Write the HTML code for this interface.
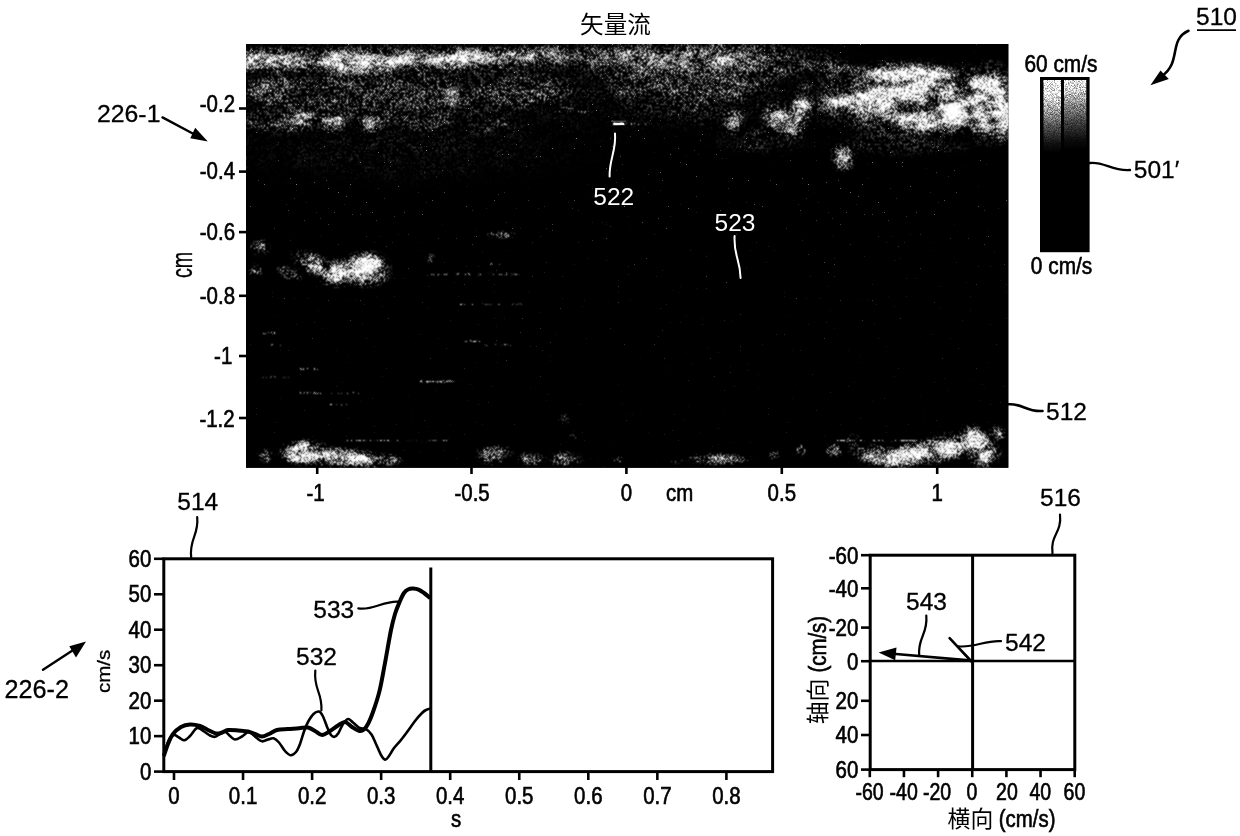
<!DOCTYPE html>
<html lang="zh">
<head>
<meta charset="utf-8">
<title>矢量流 510</title>
<style>
html,body{margin:0;padding:0;background:#fff;}
body{width:1240px;height:836px;overflow:hidden;}
svg{display:block;font-family:'Liberation Sans', 'Noto Sans CJK SC', sans-serif;}
</style>
</head>
<body>
<svg width="1240" height="836" viewBox="0 0 1240 836">
<rect width="1240" height="836" fill="#fff"/>
<defs>
<clipPath id="imgclip"><rect x="246" y="44" width="762.3" height="423.7"/></clipPath>
<radialGradient id="rg"><stop offset="0" stop-color="#fff" stop-opacity="1"/><stop offset="0.3" stop-color="#fff" stop-opacity="0.86"/><stop offset="0.55" stop-color="#fff" stop-opacity="0.5"/><stop offset="0.8" stop-color="#fff" stop-opacity="0.14"/><stop offset="1" stop-color="#fff" stop-opacity="0"/></radialGradient>
<radialGradient id="rgd"><stop offset="0" stop-color="#000" stop-opacity="1"/><stop offset="0.5" stop-color="#000" stop-opacity="0.7"/><stop offset="1" stop-color="#000" stop-opacity="0"/></radialGradient>
<filter id="grain" x="0" y="0" width="100%" height="100%" color-interpolation-filters="sRGB"><feTurbulence type="fractalNoise" baseFrequency="1.3" numOctaves="1" seed="5" result="g0"/><feColorMatrix in="g0" type="matrix" values="-2.4 0 0 0 1.7  -2.4 0 0 0 1.7  -2.4 0 0 0 1.7  0 0 0 0 1" result="g1"/><feComposite in="SourceGraphic" in2="g1" operator="arithmetic" k1="0.9" k2="0.55" k3="0" k4="0"/></filter>
<filter id="us" x="0" y="0" width="100%" height="100%" filterUnits="objectBoundingBox" color-interpolation-filters="sRGB"><feTurbulence type="fractalNoise" baseFrequency="0.055 0.09" numOctaves="3" seed="11" result="sp0"/><feColorMatrix in="sp0" type="matrix" values="2.4 0 0 0 -0.7  2.4 0 0 0 -0.7  2.4 0 0 0 -0.7  0 0 0 0 1" result="sp"/><feComposite in="SourceGraphic" in2="sp" operator="arithmetic" k1="1.1" k2="0.45" k3="0" k4="0" result="lum0"/><feComponentTransfer in="lum0" result="lum"><feFuncR type="gamma" amplitude="1.25" exponent="1.0"/><feFuncG type="gamma" amplitude="1.25" exponent="1.0"/><feFuncB type="gamma" amplitude="1.25" exponent="1.0"/></feComponentTransfer><feTurbulence type="fractalNoise" baseFrequency="1.3" numOctaves="1" seed="3" result="hf0"/><feColorMatrix in="hf0" type="matrix" values="-3.4 0 0 0 2.2  -3.4 0 0 0 2.2  -3.4 0 0 0 2.2  0 0 0 0 1" result="hf"/><feComposite in="lum" in2="hf" operator="arithmetic" k1="0" k2="5.1" k3="5.0" k4="-5.0" result="dz"/><feComponentTransfer in="dz" result="dt"><feFuncR type="linear" slope="1.0" intercept="0"/><feFuncG type="linear" slope="1.0" intercept="0"/><feFuncB type="linear" slope="1.0" intercept="0"/></feComponentTransfer><feConvolveMatrix in="dt" order="3" kernelMatrix="0.6 1 0.6 1 3 1 0.6 1 0.6" preserveAlpha="true" edgeMode="duplicate"/></filter>
<filter id="salt" x="0" y="0" width="100%" height="100%" color-interpolation-filters="sRGB"><feTurbulence type="fractalNoise" baseFrequency="0.5" numOctaves="3" seed="21" result="s0"/><feColorMatrix in="s0" type="matrix" values="0 0 0 0 1  0 0 0 0 1  0 0 0 0 1  9 0 0 0 -6.75" result="s1"/><feComposite in="SourceGraphic" in2="s1" operator="in"/></filter>
<linearGradient id="saltg" x1="0" y1="0" x2="0" y2="1"><stop offset="0" stop-color="#fff" stop-opacity="0.7"/><stop offset="0.3" stop-color="#fff" stop-opacity="0.6"/><stop offset="0.6" stop-color="#fff" stop-opacity="0.3"/><stop offset="1" stop-color="#fff" stop-opacity="0.12"/></linearGradient>
<linearGradient id="cbar1" x1="0" y1="0" x2="0" y2="1"><stop offset="0" stop-color="#fff"/><stop offset="0.07" stop-color="#f0f0f0"/><stop offset="0.17" stop-color="#a4a4a4"/><stop offset="0.28" stop-color="#4a4a4a"/><stop offset="0.37" stop-color="#111"/><stop offset="0.43" stop-color="#000"/></linearGradient>
<linearGradient id="cbar2" x1="0" y1="0" x2="0" y2="1"><stop offset="0" stop-color="#f4f4f4"/><stop offset="0.06" stop-color="#c8c8c8"/><stop offset="0.15" stop-color="#828282"/><stop offset="0.26" stop-color="#383838"/><stop offset="0.35" stop-color="#0c0c0c"/><stop offset="0.41" stop-color="#000"/></linearGradient>
</defs>
<rect x="246" y="44" width="762.3" height="423.7" fill="#000"/>
<g clip-path="url(#imgclip)">
<g filter="url(#us)">
<rect x="246" y="44" width="762.3" height="423.7" fill="#000"/>
<ellipse cx="390" cy="60" rx="217.5" ry="17.4" fill="url(#rg)" fill-opacity="0.26"/>
<ellipse cx="274" cy="60" rx="43.5" ry="15.9" fill="url(#rg)" fill-opacity="0.51"/>
<ellipse cx="250" cy="60" rx="14.5" ry="14.5" fill="url(#rg)" fill-opacity="0.42"/>
<ellipse cx="352" cy="62" rx="60.9" ry="15.9" fill="url(#rg)" fill-opacity="0.64"/>
<ellipse cx="354" cy="61" rx="26.1" ry="8.7" fill="url(#rg)" fill-opacity="0.51"/>
<ellipse cx="454" cy="58" rx="49.3" ry="13.0" fill="url(#rg)" fill-opacity="0.59"/>
<ellipse cx="455" cy="57" rx="20.3" ry="7.2" fill="url(#rg)" fill-opacity="0.42"/>
<ellipse cx="405" cy="60" rx="29.0" ry="11.6" fill="url(#rg)" fill-opacity="0.38"/>
<ellipse cx="510" cy="55" rx="69.6" ry="10.2" fill="url(#rg)" fill-opacity="0.42" transform="rotate(-3 510 55)"/>
<ellipse cx="580" cy="56" rx="87.0" ry="13.0" fill="url(#rg)" fill-opacity="0.21"/>
<ellipse cx="380" cy="95" rx="203.0" ry="34.8" fill="url(#rg)" fill-opacity="0.17"/>
<ellipse cx="400" cy="150" rx="232.0" ry="43.5" fill="url(#rg)" fill-opacity="0.04"/>
<ellipse cx="270" cy="90" rx="34.8" ry="17.4" fill="url(#rg)" fill-opacity="0.26"/>
<ellipse cx="297" cy="117" rx="20.3" ry="10.2" fill="url(#rg)" fill-opacity="0.47"/>
<ellipse cx="333" cy="123" rx="17.4" ry="11.6" fill="url(#rg)" fill-opacity="0.51"/>
<ellipse cx="372" cy="124" rx="14.5" ry="10.2" fill="url(#rg)" fill-opacity="0.47"/>
<ellipse cx="454" cy="96" rx="14.5" ry="11.6" fill="url(#rg)" fill-opacity="0.42"/>
<ellipse cx="530" cy="90" rx="58.0" ry="20.3" fill="url(#rg)" fill-opacity="0.19"/>
<ellipse cx="280" cy="122" rx="58.0" ry="14.5" fill="url(#rg)" fill-opacity="0.19"/>
<ellipse cx="420" cy="122" rx="43.5" ry="11.6" fill="url(#rg)" fill-opacity="0.13"/>
<ellipse cx="490" cy="125" rx="36.2" ry="11.6" fill="url(#rg)" fill-opacity="0.10"/>
<ellipse cx="700" cy="62" rx="159.5" ry="26.1" fill="url(#rg)" fill-opacity="0.34"/>
<ellipse cx="690" cy="100" rx="101.5" ry="31.9" fill="url(#rg)" fill-opacity="0.09"/>
<ellipse cx="540" cy="80" rx="435.0" ry="72.5" fill="url(#rg)" fill-opacity="0.04"/>
<ellipse cx="650" cy="58" rx="58.0" ry="14.5" fill="url(#rg)" fill-opacity="0.21"/>
<ellipse cx="700" cy="58" rx="36.2" ry="13.0" fill="url(#rg)" fill-opacity="0.17"/>
<ellipse cx="745" cy="56" rx="29.0" ry="13.0" fill="url(#rg)" fill-opacity="0.17"/>
<ellipse cx="640" cy="85" rx="50.8" ry="14.5" fill="url(#rg)" fill-opacity="0.15"/>
<ellipse cx="720" cy="88" rx="72.5" ry="14.5" fill="url(#rg)" fill-opacity="0.19"/>
<ellipse cx="835" cy="68" rx="26.1" ry="11.6" fill="url(#rg)" fill-opacity="0.26"/>
<ellipse cx="733" cy="120" rx="13.0" ry="13.0" fill="url(#rg)" fill-opacity="0.42"/>
<ellipse cx="777" cy="117" rx="18.8" ry="18.8" fill="url(#rg)" fill-opacity="0.55"/>
<ellipse cx="801" cy="111" rx="13.0" ry="31.9" fill="url(#rg)" fill-opacity="0.59" transform="rotate(10 801 111)"/>
<ellipse cx="790" cy="128" rx="14.5" ry="10.2" fill="url(#rg)" fill-opacity="0.34"/>
<ellipse cx="843" cy="158" rx="14.5" ry="15.9" fill="url(#rg)" fill-opacity="0.42"/>
<ellipse cx="760" cy="140" rx="58.0" ry="17.4" fill="url(#rg)" fill-opacity="0.10"/>
<ellipse cx="900" cy="145" rx="87.0" ry="14.5" fill="url(#rg)" fill-opacity="0.10"/>
<ellipse cx="915" cy="100" rx="121.8" ry="43.5" fill="url(#rg)" fill-opacity="0.47"/>
<ellipse cx="912" cy="79" rx="66.7" ry="18.8" fill="url(#rg)" fill-opacity="0.85" transform="rotate(3 912 79)"/>
<ellipse cx="915" cy="78" rx="43.5" ry="11.6" fill="url(#rg)" fill-opacity="0.51" transform="rotate(3 915 78)"/>
<ellipse cx="880" cy="98" rx="69.6" ry="14.5" fill="url(#rg)" fill-opacity="0.77" transform="rotate(-8 880 98)"/>
<ellipse cx="838" cy="98" rx="20.3" ry="11.6" fill="url(#rg)" fill-opacity="0.42"/>
<ellipse cx="935" cy="121" rx="52.2" ry="14.5" fill="url(#rg)" fill-opacity="0.77" transform="rotate(-5 935 121)"/>
<ellipse cx="953" cy="111" rx="21.8" ry="17.4" fill="url(#rg)" fill-opacity="0.85"/>
<ellipse cx="953" cy="111" rx="14.5" ry="11.6" fill="url(#rg)" fill-opacity="0.85"/>
<ellipse cx="953" cy="111" rx="10.2" ry="8.7" fill="url(#rg)" fill-opacity="0.85"/>
<ellipse cx="990" cy="104" rx="31.9" ry="46.4" fill="url(#rg)" fill-opacity="0.77"/>
<ellipse cx="1002" cy="108" rx="17.4" ry="37.7" fill="url(#rg)" fill-opacity="0.59"/>
<ellipse cx="985" cy="88" rx="26.1" ry="17.4" fill="url(#rg)" fill-opacity="0.42"/>
<ellipse cx="870" cy="115" rx="36.2" ry="10.2" fill="url(#rg)" fill-opacity="0.34"/>
<ellipse cx="260" cy="247" rx="11.6" ry="10.2" fill="url(#rg)" fill-opacity="0.34"/>
<ellipse cx="256" cy="271" rx="8.7" ry="7.2" fill="url(#rg)" fill-opacity="0.26"/>
<ellipse cx="289" cy="273" rx="15.9" ry="7.2" fill="url(#rg)" fill-opacity="0.34" transform="rotate(20 289 273)"/>
<ellipse cx="314" cy="264" rx="27.6" ry="13.0" fill="url(#rg)" fill-opacity="0.59" transform="rotate(25 314 264)"/>
<ellipse cx="337" cy="273" rx="21.8" ry="15.9" fill="url(#rg)" fill-opacity="0.68"/>
<ellipse cx="366" cy="269" rx="29.0" ry="20.3" fill="url(#rg)" fill-opacity="0.85"/>
<ellipse cx="367" cy="268" rx="20.3" ry="14.5" fill="url(#rg)" fill-opacity="0.85"/>
<ellipse cx="368" cy="268" rx="13.0" ry="8.7" fill="url(#rg)" fill-opacity="0.85"/>
<ellipse cx="501" cy="235" rx="17.4" ry="4.3" fill="url(#rg)" fill-opacity="0.38"/>
<ellipse cx="430" cy="258" rx="5.8" ry="5.8" fill="url(#rg)" fill-opacity="0.26"/>
<ellipse cx="265" cy="456" rx="8.7" ry="8.7" fill="url(#rg)" fill-opacity="0.38"/>
<ellipse cx="305" cy="452" rx="27.6" ry="14.5" fill="url(#rg)" fill-opacity="0.81"/>
<ellipse cx="304" cy="452" rx="17.4" ry="8.7" fill="url(#rg)" fill-opacity="0.68"/>
<ellipse cx="340" cy="457" rx="66.7" ry="11.6" fill="url(#rg)" fill-opacity="0.72" transform="rotate(4 340 457)"/>
<ellipse cx="300" cy="456" rx="17.4" ry="10.2" fill="url(#rg)" fill-opacity="0.42"/>
<ellipse cx="494" cy="455" rx="21.8" ry="11.6" fill="url(#rg)" fill-opacity="0.38"/>
<ellipse cx="531" cy="459" rx="15.9" ry="8.7" fill="url(#rg)" fill-opacity="0.38"/>
<ellipse cx="565" cy="459" rx="20.3" ry="8.7" fill="url(#rg)" fill-opacity="0.38"/>
<ellipse cx="564" cy="419" rx="5.8" ry="5.8" fill="url(#rg)" fill-opacity="0.30"/>
<ellipse cx="573" cy="436" rx="4.3" ry="5.8" fill="url(#rg)" fill-opacity="0.26"/>
<ellipse cx="618" cy="460" rx="7.2" ry="4.3" fill="url(#rg)" fill-opacity="0.21"/>
<ellipse cx="395" cy="460" rx="8.7" ry="4.3" fill="url(#rg)" fill-opacity="0.21"/>
<ellipse cx="718" cy="459" rx="36.2" ry="7.2" fill="url(#rg)" fill-opacity="0.34"/>
<ellipse cx="676" cy="461" rx="8.7" ry="3.6" fill="url(#rg)" fill-opacity="0.26"/>
<ellipse cx="774" cy="455" rx="7.2" ry="5.8" fill="url(#rg)" fill-opacity="0.26"/>
<ellipse cx="801" cy="450" rx="7.2" ry="7.2" fill="url(#rg)" fill-opacity="0.30"/>
<ellipse cx="834" cy="450" rx="10.2" ry="8.7" fill="url(#rg)" fill-opacity="0.38"/>
<ellipse cx="853" cy="440" rx="8.7" ry="7.2" fill="url(#rg)" fill-opacity="0.26"/>
<ellipse cx="878" cy="455" rx="31.9" ry="11.6" fill="url(#rg)" fill-opacity="0.64" transform="rotate(10 878 455)"/>
<ellipse cx="905" cy="456" rx="31.9" ry="13.0" fill="url(#rg)" fill-opacity="0.81" transform="rotate(-15 905 456)"/>
<ellipse cx="944" cy="448" rx="34.8" ry="15.9" fill="url(#rg)" fill-opacity="0.85" transform="rotate(-15 944 448)"/>
<ellipse cx="975" cy="440" rx="18.8" ry="15.9" fill="url(#rg)" fill-opacity="0.77" transform="rotate(30 975 440)"/>
<ellipse cx="984" cy="453" rx="18.8" ry="17.4" fill="url(#rg)" fill-opacity="0.81" transform="rotate(20 984 453)"/>
<ellipse cx="997" cy="433" rx="10.2" ry="8.7" fill="url(#rg)" fill-opacity="0.42"/>
<ellipse cx="925" cy="452" rx="72.5" ry="14.5" fill="url(#rg)" fill-opacity="0.26" transform="rotate(-8 925 452)"/>
<ellipse cx="327" cy="267" rx="6.5" ry="6.5" fill="url(#rgd)" fill-opacity="1"/>
<ellipse cx="920" cy="108" rx="20.8" ry="4.5" fill="url(#rgd)" fill-opacity="0.6"/>
<ellipse cx="962" cy="79" rx="11.7" ry="13.0" fill="url(#rgd)" fill-opacity="0.8"/>
<ellipse cx="969" cy="92" rx="7.8" ry="7.8" fill="url(#rgd)" fill-opacity="0.5"/>
<ellipse cx="990" cy="97" rx="6.5" ry="5.2" fill="url(#rgd)" fill-opacity="0.5"/>
<ellipse cx="993" cy="121" rx="7.8" ry="6.5" fill="url(#rgd)" fill-opacity="0.55"/>
<ellipse cx="933" cy="102" rx="9.1" ry="10.4" fill="url(#rgd)" fill-opacity="0.6"/>
<ellipse cx="905" cy="112" rx="11.7" ry="5.2" fill="url(#rgd)" fill-opacity="0.5"/>
<line x1="613.5" y1="123.8" x2="624" y2="123.8" stroke="#fff" stroke-opacity="0.8" stroke-width="2.4"/>
<line x1="425" y1="274.5" x2="520" y2="274.5" stroke="#fff" stroke-opacity="0.144" stroke-width="1.4"/>
<line x1="455" y1="274.3" x2="470" y2="274.3" stroke="#fff" stroke-opacity="0.48" stroke-width="1.8"/>
<line x1="490" y1="264" x2="500" y2="264" stroke="#fff" stroke-opacity="0.24" stroke-width="1.4"/>
<line x1="460" y1="304" x2="523" y2="304" stroke="#fff" stroke-opacity="0.16" stroke-width="1.7"/>
<line x1="462" y1="341" x2="480" y2="341" stroke="#fff" stroke-opacity="0.28" stroke-width="1.7"/>
<line x1="480" y1="345" x2="517" y2="345" stroke="#fff" stroke-opacity="0.16" stroke-width="1.4"/>
<line x1="340" y1="440.6" x2="447" y2="440.6" stroke="#fff" stroke-opacity="0.16" stroke-width="1"/>
<line x1="837" y1="440.6" x2="934" y2="440.6" stroke="#fff" stroke-opacity="0.32" stroke-width="1"/>
<line x1="419" y1="381.5" x2="454" y2="381.5" stroke="#fff" stroke-opacity="0.36" stroke-width="1.7"/>
<line x1="300" y1="369" x2="320" y2="369" stroke="#fff" stroke-opacity="0.28" stroke-width="1.5"/>
<line x1="298" y1="393" x2="360" y2="393" stroke="#fff" stroke-opacity="0.16" stroke-width="1.4"/>
<line x1="330" y1="405" x2="350" y2="405" stroke="#fff" stroke-opacity="0.2" stroke-width="1.5"/>
<line x1="262" y1="377" x2="290" y2="377" stroke="#fff" stroke-opacity="0.12" stroke-width="1.4"/>
<line x1="262" y1="333" x2="275" y2="333" stroke="#fff" stroke-opacity="0.2" stroke-width="1.7"/>
<line x1="268" y1="345" x2="285" y2="345" stroke="#fff" stroke-opacity="0.16" stroke-width="1.7"/>
<line x1="555" y1="112" x2="590" y2="112" stroke="#fff" stroke-opacity="0.16" stroke-width="1.7"/>
<line x1="610" y1="124" x2="650" y2="124" stroke="#fff" stroke-opacity="0.16" stroke-width="1.7"/>
<line x1="560" y1="108" x2="575" y2="108" stroke="#fff" stroke-opacity="0.2" stroke-width="1.7"/>
</g>
</g>
<g clip-path="url(#imgclip)">
<ellipse cx="953" cy="110.5" rx="13" ry="11" fill="url(#rg)" fill-opacity="1"/>
<ellipse cx="953" cy="110.5" rx="9" ry="7.5" fill="url(#rg)" fill-opacity="1"/>
<ellipse cx="368" cy="268" rx="12" ry="9" fill="url(#rg)" fill-opacity="0.7"/>
</g>
<g clip-path="url(#imgclip)"><rect x="246" y="44" width="762.3" height="423.7" fill="url(#saltg)" filter="url(#salt)"/></g>
<line x1="613.60" y1="123.90" x2="624.00" y2="123.90" stroke="#fff" stroke-width="2" stroke-linecap="butt"/>
<line x1="611.00" y1="121.20" x2="626.00" y2="121.20" stroke="#777" stroke-width="0.8" stroke-linecap="butt"/>
<text transform="translate(593.30 205.00)" font-size="24.5" text-anchor="start" fill="#fff" stroke="#fff" stroke-width="0">522</text>
<path d="M615 133.5 C616.5 150 609 160 609.6 176.5" fill="none" stroke="#fff" stroke-width="2" stroke-linecap="round" stroke-linejoin="round"/>
<text transform="translate(714.60 230.50)" font-size="24.5" text-anchor="start" fill="#fff" stroke="#fff" stroke-width="0">523</text>
<path d="M734.6 236 C733.5 256 740 258 740.6 278" fill="none" stroke="#fff" stroke-width="2" stroke-linecap="round" stroke-linejoin="round"/>
<line x1="239.00" y1="108.50" x2="246.50" y2="108.50" stroke="#000" stroke-width="2.6" stroke-linecap="butt"/>
<text transform="translate(235.00 112.40) scale(0.835 1)" font-size="24.5" text-anchor="end" fill="#000" stroke="#000" stroke-width="0.65">-0.2</text>
<line x1="239.00" y1="171.60" x2="246.50" y2="171.60" stroke="#000" stroke-width="2.6" stroke-linecap="butt"/>
<text transform="translate(235.00 178.60) scale(0.835 1)" font-size="24.5" text-anchor="end" fill="#000" stroke="#000" stroke-width="0.65">-0.4</text>
<line x1="239.00" y1="232.10" x2="246.50" y2="232.10" stroke="#000" stroke-width="2.6" stroke-linecap="butt"/>
<text transform="translate(235.00 240.00) scale(0.835 1)" font-size="24.5" text-anchor="end" fill="#000" stroke="#000" stroke-width="0.65">-0.6</text>
<line x1="239.00" y1="295.80" x2="246.50" y2="295.80" stroke="#000" stroke-width="2.6" stroke-linecap="butt"/>
<text transform="translate(235.00 303.70) scale(0.835 1)" font-size="24.5" text-anchor="end" fill="#000" stroke="#000" stroke-width="0.65">-0.8</text>
<line x1="239.00" y1="356.00" x2="246.50" y2="356.00" stroke="#000" stroke-width="2.6" stroke-linecap="butt"/>
<text transform="translate(232.30 363.80) scale(0.835 1)" font-size="24.5" text-anchor="end" fill="#000" stroke="#000" stroke-width="0.65">-1</text>
<line x1="239.00" y1="418.00" x2="246.50" y2="418.00" stroke="#000" stroke-width="2.6" stroke-linecap="butt"/>
<text transform="translate(234.60 427.30) scale(0.835 1)" font-size="24.5" text-anchor="end" fill="#000" stroke="#000" stroke-width="0.65">-1.2</text>
<line x1="317.20" y1="467.20" x2="317.20" y2="474.00" stroke="#000" stroke-width="2.6" stroke-linecap="butt"/>
<text transform="translate(315.60 500.60) scale(0.835 1)" font-size="24.5" text-anchor="middle" fill="#000" stroke="#000" stroke-width="0.65">-1</text>
<line x1="471.50" y1="467.20" x2="471.50" y2="474.00" stroke="#000" stroke-width="2.6" stroke-linecap="butt"/>
<text transform="translate(472.10 500.60) scale(0.835 1)" font-size="24.5" text-anchor="middle" fill="#000" stroke="#000" stroke-width="0.65">-0.5</text>
<line x1="626.40" y1="467.20" x2="626.40" y2="474.00" stroke="#000" stroke-width="2.6" stroke-linecap="butt"/>
<text transform="translate(626.40 500.60) scale(0.835 1)" font-size="24.5" text-anchor="middle" fill="#000" stroke="#000" stroke-width="0.65">0</text>
<line x1="781.80" y1="467.20" x2="781.80" y2="474.00" stroke="#000" stroke-width="2.6" stroke-linecap="butt"/>
<text transform="translate(781.80 500.60) scale(0.835 1)" font-size="24.5" text-anchor="middle" fill="#000" stroke="#000" stroke-width="0.65">0.5</text>
<line x1="937.20" y1="467.20" x2="937.20" y2="474.00" stroke="#000" stroke-width="2.6" stroke-linecap="butt"/>
<text transform="translate(937.20 500.60) scale(0.835 1)" font-size="24.5" text-anchor="middle" fill="#000" stroke="#000" stroke-width="0.65">1</text>
<text transform="translate(666.00 500.60) scale(0.835 1)" font-size="24.5" text-anchor="start" fill="#000" stroke="#000" stroke-width="0.65">cm</text>
<text transform="translate(191.50 278.00) rotate(-90) scale(0.68 1)" font-size="29" text-anchor="start" fill="#000" stroke="#000" stroke-width="0.3">cm</text>
<text x="615.5" y="32.6" font-size="23.6" text-anchor="middle" fill="#000">矢量流</text>
<rect x="1040" y="77" width="49.6" height="175.2" fill="#000"/>
<g filter="url(#grain)">
<rect x="1043.5" y="80" width="17.5" height="170" fill="url(#cbar1)"/>
<rect x="1064" y="80" width="22.3" height="170" fill="url(#cbar2)"/>
</g>
<text transform="translate(1024.40 72.00) scale(0.852 1)" font-size="24.5" text-anchor="start" fill="#000" stroke="#000" stroke-width="0.65">60 cm/s</text>
<text transform="translate(1030.80 274.00) scale(0.852 1)" font-size="24.5" text-anchor="start" fill="#000" stroke="#000" stroke-width="0.65">0 cm/s</text>
<text transform="translate(1133.80 178.40)" font-size="24.5" text-anchor="start" fill="#000" stroke="#000" stroke-width="0.3">501′</text>
<path d="M1089.6 163 C1104 161 1112 171.5 1130 170" fill="none" stroke="#000" stroke-width="2.3" stroke-linecap="round" stroke-linejoin="round"/>
<text transform="translate(1046.00 420.00)" font-size="24.5" text-anchor="start" fill="#000" stroke="#000" stroke-width="0.3">512</text>
<path d="M1008.3 404.3 C1022 403 1027 412.5 1042.6 411" fill="none" stroke="#000" stroke-width="2.5" stroke-linecap="round" stroke-linejoin="round"/>
<text transform="translate(1196.00 25.30)" font-size="24.5" text-anchor="start" fill="#000" stroke="#000" stroke-width="0.3">510</text>
<line x1="1197.00" y1="30.20" x2="1236.00" y2="30.20" stroke="#000" stroke-width="1.7" stroke-linecap="butt"/>
<path d="M1188.5 30.8 C1168 40 1182 62 1162 76" fill="none" stroke="#000" stroke-width="2.6" stroke-linecap="round" stroke-linejoin="round"/>
<polygon points="1150.4,85.3 1160.5,70.6 1168.8,79" fill="#000"/>
<text transform="translate(97.00 121.50)" font-size="24.8" text-anchor="start" fill="#000" stroke="#000" stroke-width="0.3">226-1</text>
<line x1="162.50" y1="117.40" x2="196.00" y2="135.20" stroke="#000" stroke-width="2.4" stroke-linecap="round"/>
<polygon points="207.8,141.5 190.3,138.3 195.2,127.8" fill="#000"/>
<text transform="translate(4.60 697.80)" font-size="25.2" text-anchor="start" fill="#000" stroke="#000" stroke-width="0.3">226-2</text>
<line x1="43.00" y1="669.80" x2="74.00" y2="649.50" stroke="#000" stroke-width="2.4" stroke-linecap="round"/>
<polygon points="86,641.6 76,657.5 69.3,646.3" fill="#000"/>
<rect x="163.8" y="558.8" width="608.8" height="212.8" fill="none" stroke="#000" stroke-width="3"/>
<line x1="154.00" y1="558.80" x2="163.80" y2="558.80" stroke="#000" stroke-width="2.6" stroke-linecap="butt"/>
<text transform="translate(151.30 567.00) scale(0.835 1)" font-size="24.5" text-anchor="end" fill="#000" stroke="#000" stroke-width="0.65">60</text>
<line x1="154.00" y1="594.27" x2="163.80" y2="594.27" stroke="#000" stroke-width="2.6" stroke-linecap="butt"/>
<text transform="translate(151.30 602.47) scale(0.835 1)" font-size="24.5" text-anchor="end" fill="#000" stroke="#000" stroke-width="0.65">50</text>
<line x1="154.00" y1="629.73" x2="163.80" y2="629.73" stroke="#000" stroke-width="2.6" stroke-linecap="butt"/>
<text transform="translate(151.30 637.93) scale(0.835 1)" font-size="24.5" text-anchor="end" fill="#000" stroke="#000" stroke-width="0.65">40</text>
<line x1="154.00" y1="665.20" x2="163.80" y2="665.20" stroke="#000" stroke-width="2.6" stroke-linecap="butt"/>
<text transform="translate(151.30 673.40) scale(0.835 1)" font-size="24.5" text-anchor="end" fill="#000" stroke="#000" stroke-width="0.65">30</text>
<line x1="154.00" y1="700.67" x2="163.80" y2="700.67" stroke="#000" stroke-width="2.6" stroke-linecap="butt"/>
<text transform="translate(151.30 708.87) scale(0.835 1)" font-size="24.5" text-anchor="end" fill="#000" stroke="#000" stroke-width="0.65">20</text>
<line x1="154.00" y1="736.13" x2="163.80" y2="736.13" stroke="#000" stroke-width="2.6" stroke-linecap="butt"/>
<text transform="translate(151.30 744.33) scale(0.835 1)" font-size="24.5" text-anchor="end" fill="#000" stroke="#000" stroke-width="0.65">10</text>
<line x1="154.00" y1="771.60" x2="163.80" y2="771.60" stroke="#000" stroke-width="2.6" stroke-linecap="butt"/>
<text transform="translate(151.30 779.80) scale(0.835 1)" font-size="24.5" text-anchor="end" fill="#000" stroke="#000" stroke-width="0.65">0</text>
<line x1="174.00" y1="771.60" x2="174.00" y2="780.00" stroke="#000" stroke-width="2.6" stroke-linecap="butt"/>
<text transform="translate(174.00 804.00) scale(0.835 1)" font-size="24.5" text-anchor="middle" fill="#000" stroke="#000" stroke-width="0.65">0</text>
<line x1="243.05" y1="771.60" x2="243.05" y2="780.00" stroke="#000" stroke-width="2.6" stroke-linecap="butt"/>
<text transform="translate(243.05 804.00) scale(0.835 1)" font-size="24.5" text-anchor="middle" fill="#000" stroke="#000" stroke-width="0.65">0.1</text>
<line x1="312.10" y1="771.60" x2="312.10" y2="780.00" stroke="#000" stroke-width="2.6" stroke-linecap="butt"/>
<text transform="translate(312.10 804.00) scale(0.835 1)" font-size="24.5" text-anchor="middle" fill="#000" stroke="#000" stroke-width="0.65">0.2</text>
<line x1="381.15" y1="771.60" x2="381.15" y2="780.00" stroke="#000" stroke-width="2.6" stroke-linecap="butt"/>
<text transform="translate(381.15 804.00) scale(0.835 1)" font-size="24.5" text-anchor="middle" fill="#000" stroke="#000" stroke-width="0.65">0.3</text>
<line x1="450.20" y1="771.60" x2="450.20" y2="780.00" stroke="#000" stroke-width="2.6" stroke-linecap="butt"/>
<text transform="translate(450.20 804.00) scale(0.835 1)" font-size="24.5" text-anchor="middle" fill="#000" stroke="#000" stroke-width="0.65">0.4</text>
<line x1="519.25" y1="771.60" x2="519.25" y2="780.00" stroke="#000" stroke-width="2.6" stroke-linecap="butt"/>
<text transform="translate(519.25 804.00) scale(0.835 1)" font-size="24.5" text-anchor="middle" fill="#000" stroke="#000" stroke-width="0.65">0.5</text>
<line x1="588.30" y1="771.60" x2="588.30" y2="780.00" stroke="#000" stroke-width="2.6" stroke-linecap="butt"/>
<text transform="translate(588.30 804.00) scale(0.835 1)" font-size="24.5" text-anchor="middle" fill="#000" stroke="#000" stroke-width="0.65">0.6</text>
<line x1="657.35" y1="771.60" x2="657.35" y2="780.00" stroke="#000" stroke-width="2.6" stroke-linecap="butt"/>
<text transform="translate(657.35 804.00) scale(0.835 1)" font-size="24.5" text-anchor="middle" fill="#000" stroke="#000" stroke-width="0.65">0.7</text>
<line x1="726.40" y1="771.60" x2="726.40" y2="780.00" stroke="#000" stroke-width="2.6" stroke-linecap="butt"/>
<text transform="translate(726.40 804.00) scale(0.835 1)" font-size="24.5" text-anchor="middle" fill="#000" stroke="#000" stroke-width="0.65">0.8</text>
<text transform="translate(456.20 827.30) scale(0.835 1)" font-size="24.5" text-anchor="middle" fill="#000" stroke="#000" stroke-width="0.65">s</text>
<text transform="translate(110.30 693.00) rotate(-90) scale(1.08 1)" font-size="19" text-anchor="start" fill="#000" stroke="#000" stroke-width="0.3">cm/s</text>
<line x1="430.80" y1="567.50" x2="430.80" y2="771.60" stroke="#000" stroke-width="3" stroke-linecap="butt"/>
<path d="M163.8 756.0 C164.5 754.0 166.5 747.7 168.0 744.0 C169.5 740.3 170.8 736.8 173.0 734.0 C175.2 731.2 178.2 728.6 181.0 727.0 C183.8 725.4 186.8 724.7 190.0 724.5 C193.2 724.3 197.0 725.1 200.0 726.0 C203.0 726.9 205.3 728.8 208.0 730.0 C210.7 731.2 213.7 733.1 216.0 733.5 C218.3 733.9 220.0 733.1 222.0 732.5 C224.0 731.9 225.3 730.3 228.0 730.0 C230.7 729.7 234.7 730.2 238.0 730.5 C241.3 730.8 245.2 730.9 248.0 731.5 C250.8 732.1 252.7 733.2 255.0 734.0 C257.3 734.8 259.7 736.5 262.0 736.5 C264.3 736.5 266.5 735.1 269.0 734.0 C271.5 732.9 273.8 730.8 277.0 730.0 C280.2 729.2 284.3 729.3 288.0 729.0 C291.7 728.7 295.7 728.5 299.0 728.2 C302.3 728.0 305.3 727.0 308.0 727.5 C310.7 728.0 312.7 729.8 315.0 731.0 C317.3 732.2 319.5 735.0 322.0 735.0 C324.5 735.0 327.3 732.6 330.0 731.0 C332.7 729.4 335.5 727.0 338.0 725.5 C340.5 724.0 342.7 721.8 345.0 722.0 C347.3 722.2 349.6 725.5 352.0 727.0 C354.4 728.5 357.5 730.6 359.5 731.0 C361.5 731.4 362.5 730.8 364.0 729.5 C365.5 728.2 367.0 725.9 368.5 723.0 C370.0 720.1 371.1 717.4 373.0 712.0 C374.9 706.6 377.6 698.8 379.6 690.6 C381.6 682.4 383.1 673.1 385.0 663.0 C386.9 652.9 389.3 638.2 391.0 630.0 C392.7 621.8 393.6 618.7 395.0 614.0 C396.4 609.3 398.2 605.2 399.7 601.7 C401.2 598.2 402.5 595.1 404.0 593.0 C405.5 590.9 407.0 590.0 408.5 589.3 C410.0 588.6 411.3 588.5 413.0 588.6 C414.7 588.7 416.7 588.9 418.5 589.6 C420.3 590.3 422.0 591.6 424.0 593.0 C426.0 594.4 429.2 597.3 430.3 598.2" fill="none" stroke="#000" stroke-width="4" stroke-linecap="butt" stroke-linejoin="round"/>
<path d="M163.8 756.0 C164.5 753.7 166.4 745.5 168.0 742.0 C169.6 738.5 171.7 735.8 173.5 735.0 C175.3 734.2 177.2 736.6 179.0 737.5 C180.8 738.4 182.6 740.5 184.4 740.3 C186.2 740.0 187.9 738.0 190.0 736.0 C192.1 734.0 194.7 728.8 197.0 728.0 C199.3 727.2 201.8 730.2 204.0 731.5 C206.2 732.8 208.2 734.6 210.0 735.5 C211.8 736.4 213.3 737.0 215.0 736.8 C216.7 736.5 218.3 734.8 220.0 734.0 C221.7 733.2 223.3 731.5 225.0 731.8 C226.7 732.1 228.3 734.7 230.0 736.0 C231.7 737.3 233.0 739.4 235.0 739.5 C237.0 739.6 239.7 737.8 242.0 736.5 C244.3 735.2 246.7 731.8 249.0 732.0 C251.3 732.2 253.8 736.0 256.0 737.5 C258.2 739.0 260.0 741.0 262.0 741.3 C264.0 741.6 266.1 740.0 268.0 739.5 C269.9 739.0 271.7 737.8 273.5 738.3 C275.3 738.8 277.1 740.4 279.0 742.5 C280.9 744.6 283.1 748.9 285.0 751.0 C286.9 753.1 288.8 755.0 290.6 755.2 C292.4 755.4 294.4 753.9 296.0 752.0 C297.6 750.1 298.7 747.4 300.0 744.0 C301.3 740.6 302.7 735.2 304.0 731.5 C305.3 727.8 306.4 724.9 308.0 722.0 C309.6 719.1 311.7 715.7 313.5 714.0 C315.3 712.3 317.4 711.2 319.0 711.6 C320.6 712.0 321.6 713.8 323.0 716.5 C324.4 719.2 326.2 724.9 327.5 728.0 C328.8 731.1 329.8 733.5 331.0 735.0 C332.2 736.5 333.2 737.1 334.5 736.8 C335.8 736.5 337.1 735.1 338.5 733.0 C339.9 730.9 341.4 726.3 343.0 724.0 C344.6 721.7 346.3 719.2 348.0 719.0 C349.7 718.8 351.1 721.0 353.0 722.5 C354.9 724.0 357.3 726.9 359.5 728.0 C361.7 729.1 364.0 728.1 366.0 729.2 C368.0 730.3 369.8 732.0 371.5 734.5 C373.2 737.0 374.4 740.6 376.0 744.0 C377.6 747.4 379.5 752.4 381.0 755.0 C382.5 757.6 383.9 759.4 385.2 759.6 C386.5 759.8 387.5 757.9 389.0 756.0 C390.5 754.1 392.0 750.7 394.0 748.0 C396.0 745.3 398.7 742.9 401.0 740.0 C403.3 737.1 405.7 734.0 408.0 730.8 C410.3 727.6 412.7 724.0 415.0 721.0 C417.3 718.0 420.2 714.8 422.0 713.0 C423.8 711.2 424.6 710.7 426.0 710.0 C427.4 709.3 429.6 708.8 430.3 708.6" fill="none" stroke="#000" stroke-width="2.6" stroke-linecap="butt" stroke-linejoin="round"/>
<text transform="translate(313.30 617.50)" font-size="24.5" text-anchor="start" fill="#000" stroke="#000" stroke-width="0.3">533</text>
<path d="M358.3 608.4 C372 611 384 600.5 398.5 601.6" fill="none" stroke="#000" stroke-width="2.2" stroke-linecap="round" stroke-linejoin="round"/>
<text transform="translate(296.00 665.40)" font-size="24.5" text-anchor="start" fill="#000" stroke="#000" stroke-width="0.3">532</text>
<path d="M315.3 670.6 C313.5 690 322.5 692 321.4 710.5" fill="none" stroke="#000" stroke-width="2.2" stroke-linecap="round" stroke-linejoin="round"/>
<text transform="translate(177.30 510.00)" font-size="24.5" text-anchor="start" fill="#000" stroke="#000" stroke-width="0.3">514</text>
<path d="M197.2 517 C199 536 189 538 191.2 557.5" fill="none" stroke="#000" stroke-width="2.2" stroke-linecap="round" stroke-linejoin="round"/>
<rect x="870.2" y="555.2" width="204.6" height="214.4" fill="none" stroke="#000" stroke-width="3"/>
<line x1="972.60" y1="555.20" x2="972.60" y2="769.60" stroke="#000" stroke-width="3" stroke-linecap="butt"/>
<line x1="870.20" y1="661.00" x2="1074.80" y2="661.00" stroke="#000" stroke-width="2.6" stroke-linecap="butt"/>
<line x1="861.00" y1="555.20" x2="870.20" y2="555.20" stroke="#000" stroke-width="2.6" stroke-linecap="butt"/>
<text transform="translate(858.30 563.50) scale(0.87 1)" font-size="23.5" text-anchor="end" fill="#000" stroke="#000" stroke-width="0.65">-60</text>
<line x1="861.00" y1="588.30" x2="870.20" y2="588.30" stroke="#000" stroke-width="2.6" stroke-linecap="butt"/>
<text transform="translate(858.30 596.60) scale(0.87 1)" font-size="23.5" text-anchor="end" fill="#000" stroke="#000" stroke-width="0.65">-40</text>
<line x1="861.00" y1="627.60" x2="870.20" y2="627.60" stroke="#000" stroke-width="2.6" stroke-linecap="butt"/>
<text transform="translate(858.30 635.90) scale(0.87 1)" font-size="23.5" text-anchor="end" fill="#000" stroke="#000" stroke-width="0.65">-20</text>
<line x1="861.00" y1="661.20" x2="870.20" y2="661.20" stroke="#000" stroke-width="2.6" stroke-linecap="butt"/>
<text transform="translate(858.30 669.50) scale(0.87 1)" font-size="23.5" text-anchor="end" fill="#000" stroke="#000" stroke-width="0.65">0</text>
<line x1="861.00" y1="700.80" x2="870.20" y2="700.80" stroke="#000" stroke-width="2.6" stroke-linecap="butt"/>
<text transform="translate(858.30 709.10) scale(0.87 1)" font-size="23.5" text-anchor="end" fill="#000" stroke="#000" stroke-width="0.65">20</text>
<line x1="861.00" y1="735.00" x2="870.20" y2="735.00" stroke="#000" stroke-width="2.6" stroke-linecap="butt"/>
<text transform="translate(858.30 743.30) scale(0.87 1)" font-size="23.5" text-anchor="end" fill="#000" stroke="#000" stroke-width="0.65">40</text>
<line x1="861.00" y1="769.60" x2="870.20" y2="769.60" stroke="#000" stroke-width="2.6" stroke-linecap="butt"/>
<text transform="translate(858.30 777.90) scale(0.87 1)" font-size="23.5" text-anchor="end" fill="#000" stroke="#000" stroke-width="0.65">60</text>
<line x1="869.80" y1="769.60" x2="869.80" y2="777.20" stroke="#000" stroke-width="2.6" stroke-linecap="butt"/>
<text transform="translate(869.50 800.00) scale(0.83 1)" font-size="23.5" text-anchor="middle" fill="#000" stroke="#000" stroke-width="0.65">-60</text>
<line x1="903.95" y1="769.60" x2="903.95" y2="777.20" stroke="#000" stroke-width="2.6" stroke-linecap="butt"/>
<text transform="translate(903.65 800.00) scale(0.83 1)" font-size="23.5" text-anchor="middle" fill="#000" stroke="#000" stroke-width="0.65">-40</text>
<line x1="938.10" y1="769.60" x2="938.10" y2="777.20" stroke="#000" stroke-width="2.6" stroke-linecap="butt"/>
<text transform="translate(937.10 800.00) scale(0.83 1)" font-size="23.5" text-anchor="middle" fill="#000" stroke="#000" stroke-width="0.65">-20</text>
<line x1="972.25" y1="769.60" x2="972.25" y2="777.20" stroke="#000" stroke-width="2.6" stroke-linecap="butt"/>
<text transform="translate(971.95 800.00) scale(0.83 1)" font-size="23.5" text-anchor="middle" fill="#000" stroke="#000" stroke-width="0.65">0</text>
<line x1="1006.40" y1="769.60" x2="1006.40" y2="777.20" stroke="#000" stroke-width="2.6" stroke-linecap="butt"/>
<text transform="translate(1006.90 800.00) scale(0.83 1)" font-size="23.5" text-anchor="middle" fill="#000" stroke="#000" stroke-width="0.65">20</text>
<line x1="1040.55" y1="769.60" x2="1040.55" y2="777.20" stroke="#000" stroke-width="2.6" stroke-linecap="butt"/>
<text transform="translate(1040.25 800.00) scale(0.83 1)" font-size="23.5" text-anchor="middle" fill="#000" stroke="#000" stroke-width="0.65">40</text>
<line x1="1074.70" y1="769.60" x2="1074.70" y2="777.20" stroke="#000" stroke-width="2.6" stroke-linecap="butt"/>
<text transform="translate(1074.40 800.00) scale(0.83 1)" font-size="23.5" text-anchor="middle" fill="#000" stroke="#000" stroke-width="0.65">60</text>
<text x="947.6" y="826.5" font-size="22.8" fill="#000">横向</text>
<text transform="translate(998.80 826.80) scale(0.85 1)" font-size="24" text-anchor="start" fill="#000" stroke="#000" stroke-width="0.65">(cm/s)</text>
<text transform="translate(825.6 724.2) rotate(-90)" font-size="22.8" fill="#000">轴向</text>
<text transform="translate(826.20 672.60) rotate(-90) scale(0.85 1)" font-size="24" text-anchor="start" fill="#000" stroke="#000" stroke-width="0.65">(cm/s)</text>
<line x1="972.00" y1="660.60" x2="893.00" y2="653.80" stroke="#000" stroke-width="2.6" stroke-linecap="butt"/>
<polygon points="878.6,652.4 896.5,647.6 895.2,660.2" fill="#000"/>
<line x1="971.50" y1="661.50" x2="949.60" y2="638.20" stroke="#000" stroke-width="2.6" stroke-linecap="round"/>
<text transform="translate(906.00 609.50)" font-size="24.5" text-anchor="start" fill="#000" stroke="#000" stroke-width="0.3">543</text>
<path d="M926.3 615.5 C928 635 917.5 637 919.2 655.5" fill="none" stroke="#000" stroke-width="2.2" stroke-linecap="round" stroke-linejoin="round"/>
<text transform="translate(1005.00 650.80)" font-size="24.5" text-anchor="start" fill="#000" stroke="#000" stroke-width="0.3">542</text>
<path d="M1001 641.2 C986 640 974 648 958.5 646.3" fill="none" stroke="#000" stroke-width="2.2" stroke-linecap="round" stroke-linejoin="round"/>
<text transform="translate(1040.00 506.00)" font-size="24.5" text-anchor="start" fill="#000" stroke="#000" stroke-width="0.3">516</text>
<path d="M1060 514.5 C1062 533 1050 535 1052.5 553.5" fill="none" stroke="#000" stroke-width="2.2" stroke-linecap="round" stroke-linejoin="round"/>
</svg>
</body>
</html>
